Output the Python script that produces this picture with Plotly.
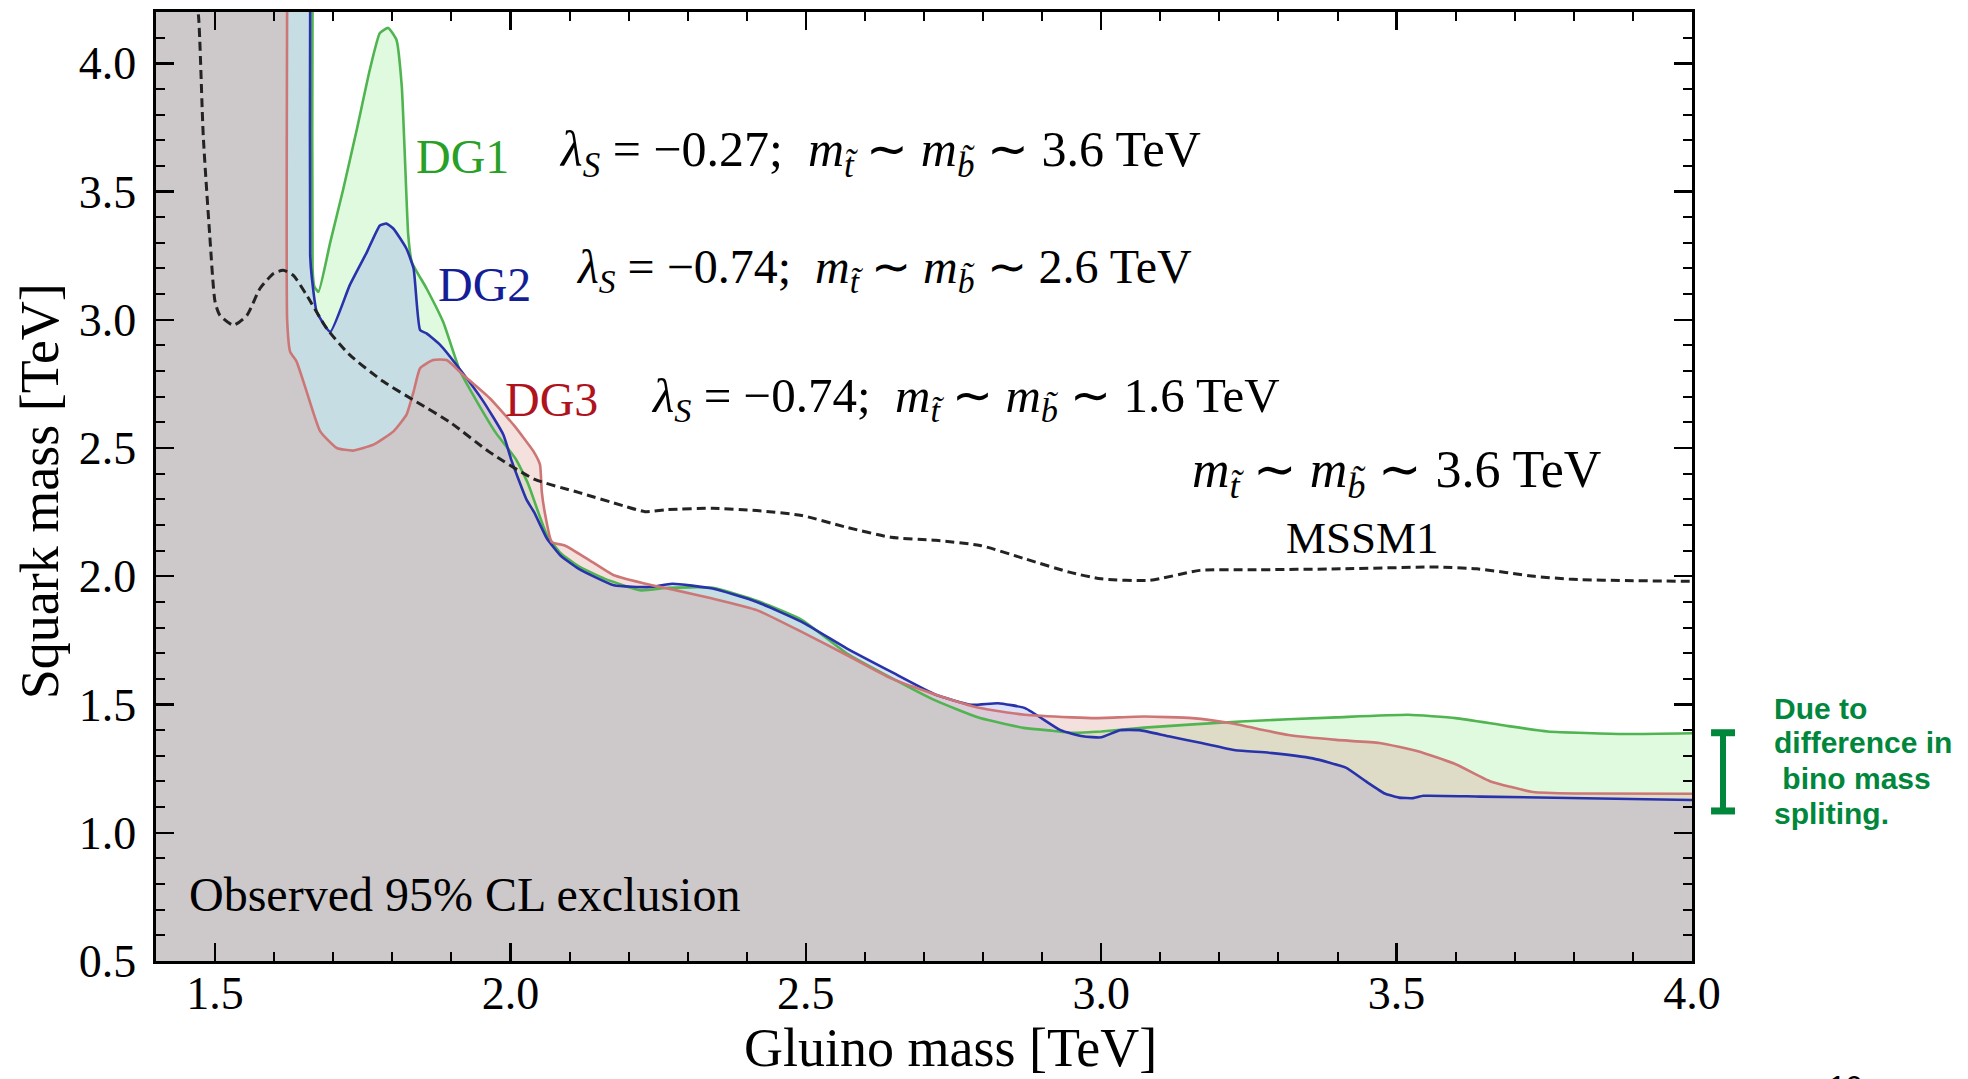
import plotly.graph_objects as go

# ---------------- data ----------------
dg1_x = [1.40, 1.665, 1.665, 1.665, 1.668, 1.675, 1.695, 1.717, 1.740, 1.762, 1.779, 1.793, 1.807, 1.816,
         1.821, 1.827, 1.833, 1.858, 1.886, 1.915, 1.943, 1.975, 2.009, 2.030, 2.047, 2.062, 2.085, 2.115,
         2.160, 2.221, 2.267, 2.342, 2.417, 2.493, 2.569, 2.644, 2.720, 2.795, 2.871, 2.917, 2.950, 3.000,
         3.073, 3.236, 3.398, 3.520, 3.600, 3.683, 3.756, 3.886, 4.000]
dg1_y = [4.30, 4.30, 4.25, 3.20, 3.13, 3.109, 3.303, 3.51, 3.743, 3.976, 4.118, 4.138, 4.092, 3.911,
         3.652, 3.329, 3.225, 3.122, 2.992, 2.798, 2.682, 2.56, 2.457, 2.36, 2.25, 2.16, 2.09, 2.04,
         1.99, 1.945, 1.955, 1.955, 1.905, 1.83, 1.70, 1.605, 1.515, 1.447, 1.408, 1.398, 1.39, 1.395,
         1.41, 1.434, 1.45, 1.46, 1.447, 1.418, 1.395, 1.385, 1.388]

dg2_x = [1.40, 1.661, 1.661, 1.661, 1.664, 1.672, 1.695, 1.728, 1.757, 1.779, 1.790, 1.802, 1.824, 1.836,
         1.847, 1.858, 1.881, 1.915, 1.954, 1.988, 2.002, 2.027, 2.040, 2.062, 2.085, 2.115, 2.175, 2.236,
         2.274, 2.342, 2.417, 2.493, 2.569, 2.644, 2.720, 2.780, 2.825, 2.871, 2.931, 2.969, 3.000, 3.032,
         3.065, 3.114, 3.170, 3.227, 3.284, 3.358, 3.414, 3.447, 3.480, 3.504, 3.528, 3.545, 3.642, 4.000]
dg2_y = [4.30, 4.30, 4.25, 3.25, 3.16, 3.031, 2.953, 3.135, 3.264, 3.368, 3.375, 3.355, 3.277, 3.20,
         2.96, 2.947, 2.902, 2.805, 2.682, 2.552, 2.45, 2.30, 2.25, 2.146, 2.08, 2.03, 1.965, 1.958,
         1.971, 1.952, 1.90, 1.822, 1.719, 1.628, 1.538, 1.499, 1.505, 1.486, 1.40, 1.376, 1.372, 1.40,
         1.40, 1.376, 1.35, 1.322, 1.312, 1.29, 1.254, 1.202, 1.153, 1.137, 1.135, 1.144, 1.141, 1.128]

dg3_x = [1.40, 1.622, 1.622, 1.622, 1.627, 1.638, 1.655, 1.678, 1.706, 1.734, 1.768, 1.802, 1.824, 1.836,
         1.847, 1.869, 1.892, 1.920, 1.965, 2.005, 2.039, 2.050, 2.053, 2.058, 2.070, 2.092, 2.130, 2.175,
         2.236, 2.281, 2.342, 2.417, 2.493, 2.569, 2.644, 2.720, 2.795, 2.871, 2.950, 2.990, 3.073, 3.154,
         3.220, 3.276, 3.317, 3.398, 3.471, 3.536, 3.601, 3.658, 3.731, 3.805, 4.000]
dg3_y = [4.30, 4.30, 4.25, 3.00, 2.876, 2.837, 2.72, 2.565, 2.50, 2.49, 2.513, 2.565, 2.63, 2.72,
         2.811, 2.843, 2.843, 2.785, 2.694, 2.591, 2.487, 2.435, 2.33, 2.25, 2.133, 2.12, 2.068, 2.004,
         1.967, 1.945, 1.913, 1.868, 1.783, 1.693, 1.602, 1.538, 1.486, 1.46, 1.45, 1.447, 1.453, 1.447,
         1.427, 1.40, 1.381, 1.362, 1.35, 1.318, 1.266, 1.201, 1.159, 1.153, 1.152]

mssm1_x = [1.465, 1.472, 1.480, 1.491, 1.500, 1.508, 1.531, 1.554, 1.576, 1.599, 1.615, 1.632, 1.655, 1.689,
           1.728, 1.785, 1.841, 1.898, 1.964, 2.040, 2.115, 2.191, 2.228, 2.266, 2.342, 2.417, 2.493, 2.569,
           2.644, 2.720, 2.795, 2.871, 2.946, 3.000, 3.082, 3.167, 3.250, 3.407, 3.571, 3.636, 3.733, 3.798,
           3.900, 4.000]
mssm1_y = [4.30, 4.183, 3.717, 3.329, 3.07, 3.018, 2.979, 3.018, 3.122, 3.18, 3.193, 3.174, 3.096, 2.966,
           2.863, 2.759, 2.68, 2.60, 2.485, 2.379, 2.327, 2.275, 2.252, 2.26, 2.265, 2.256, 2.237, 2.191,
           2.152, 2.14, 2.12, 2.068, 2.016, 1.99, 1.984, 2.023, 2.025, 2.029, 2.036, 2.029, 2.00, 1.988,
           1.983, 1.98]

x_ticks = [1.5, 2.0, 2.5, 3.0, 3.5, 4.0]
y_ticks = [0.5, 1.0, 1.5, 2.0, 2.5, 3.0, 3.5, 4.0]
bracket_y = [1.085, 1.39]
note_lines = ["Due to", "difference in", "\u00a0bino mass", "spliting."]
note_y = [1.486, 1.350, 1.213, 1.077]

# ---------------- styles ----------------
SERIF = "Liberation Serif"
series = [
    ("DG1", dg1_x, dg1_y, "rgb(80,180,80)", "rgba(100,230,100,0.2)"),
    ("DG2", dg2_x, dg2_y, "rgb(40,50,170)", "rgba(144,157,237,0.3)"),
    ("DG3", dg3_x, dg3_y, "rgb(205,118,118)", "rgba(217,152,141,0.3)"),
]
SMOOTH = 0.45

fig = go.Figure()
for name, xs, ys, lc, fc in series:
    fig.add_trace(go.Scatter(x=xs, y=ys, mode="lines", fill="tozeroy", fillcolor=fc,
                             line=dict(width=0, color=fc, shape="spline", smoothing=SMOOTH),
                             hoverinfo="skip", showlegend=False))
for name, xs, ys, lc, fc in series:
    fig.add_trace(go.Scatter(x=xs, y=ys, mode="lines",
                             line=dict(width=2.6, color=lc, shape="spline", smoothing=SMOOTH),
                             hoverinfo="skip", showlegend=False, name=name))
fig.add_trace(go.Scatter(x=mssm1_x, y=mssm1_y, mode="lines",
                         line=dict(width=3, color="rgb(35,35,35)", dash="9px,5px", shape="spline",
                                   smoothing=0.6),
                         hoverinfo="skip", showlegend=False, name="MSSM1"))

axis_common = dict(showline=True, linewidth=2.6, linecolor="black", mirror="ticks",
                   ticks="inside", ticklen=18, tickwidth=2.4, tickcolor="black",
                   showgrid=False, zeroline=False,
                   minor=dict(dtick=0.1, ticks="inside", ticklen=9, tickwidth=2, tickcolor="black",
                              showgrid=False))
fig.update_xaxes(range=[1.4, 4.0], tickvals=x_ticks, tickformat=".1f",
                 tickfont=dict(family=SERIF, size=46, color="black"), ticklabelstandoff=-10,
                 **axis_common)
fig.update_yaxes(range=[0.5, 4.2], tickvals=y_ticks, tickformat=".1f",
                 tickfont=dict(family=SERIF, size=46, color="black"), ticklabelstandoff=8,
                 **axis_common)
fig.update_xaxes(minor_tick0=1.4)
fig.update_yaxes(minor_tick0=0.5)

math_font = dict(family=SERIF, size=50, color="black")
ann = []
ann.append(dict(x=1.918, y=3.637, text="DG1", font=dict(family=SERIF, size=48, color="rgb(40,160,40)")))
ann.append(dict(x=1.956, y=3.137, text="DG2", font=dict(family=SERIF, size=48, color="rgb(20,30,150)")))
ann.append(dict(x=2.069, y=2.689, text="DG3", font=dict(family=SERIF, size=48, color="rgb(175,20,30)")))
ann.append(dict(x=2.079, y=3.649, xanchor="left",
                text="<i>λ<sub>S</sub></i> = −0.27;  <i>m</i><sub><i>t̃</i></sub> ∼ <i>m</i><sub><i>b̃</i></sub> ∼ 3.6 TeV",
                font=math_font))
ann.append(dict(x=2.107, y=3.196, xanchor="left",
                text="<i>λ<sub>S</sub></i> = −0.74;  <i>m</i><sub><i>t̃</i></sub> ∼ <i>m</i><sub><i>b̃</i></sub> ∼ 2.6 TeV",
                font=dict(family=SERIF, size=48, color="black")))
ann.append(dict(x=2.234, y=2.694, xanchor="left",
                text="<i>λ<sub>S</sub></i> = −0.74;  <i>m</i><sub><i>t̃</i></sub> ∼ <i>m</i><sub><i>b̃</i></sub> ∼ 1.6 TeV",
                font=dict(family=SERIF, size=49, color="black")))
ann.append(dict(x=3.151, y=2.401, xanchor="left",
                text="<i>m</i><sub><i>t̃</i></sub> ∼ <i>m</i><sub><i>b̃</i></sub> ∼ 3.6 TeV",
                font=dict(family=SERIF, size=52, color="black")))
ann.append(dict(x=3.442, y=2.148, text="MSSM1", font=dict(family=SERIF, size=45, color="black")))
ann.append(dict(x=1.453, y=0.758, xanchor="left", text="Observed 95% CL exclusion",
                font=dict(family=SERIF, size=48, color="black")))
for a in ann:
    a.update(xref="x", yref="y", showarrow=False)

# outside annotations
ann.append(dict(xref="paper", yref="paper", x=-0.0755, y=0.495, xanchor="center", yanchor="middle",
                text="Squark mass [TeV]", textangle=-90,
                showarrow=False, font=dict(family=SERIF, size=54, color="black")))
ann.append(dict(xref="paper", yref="paper", x=0.517, y=-0.0914, xanchor="center", yanchor="middle",
                text="Gluino mass [TeV]",
                showarrow=False, font=dict(family=SERIF, size=54, color="black")))
for line, yv in zip(note_lines, note_y):
    ann.append(dict(xref="paper", yref="y", x=1.052, y=yv, xanchor="left", yanchor="middle",
                    text="<b>" + line + "</b>", showarrow=False,
                    font=dict(family="Liberation Sans", size=30, color="rgb(0,135,60)")))
ann.append(dict(xref="paper", yref="paper", x=1.112, y=-0.112, yanchor="top", text="10",
                showarrow=False, font=dict(family="Liberation Sans", size=30, color="black")))

# bracket marking the bino mass splitting difference
bx = 1.0202
bw = 0.0078
bc = "rgb(0,135,60)"
shapes = [
    dict(type="line", xref="paper", yref="y", x0=bx, x1=bx, y0=bracket_y[0], y1=bracket_y[1],
         line=dict(color=bc, width=6)),
    dict(type="line", xref="paper", yref="y", x0=bx - bw, x1=bx + bw, y0=bracket_y[0], y1=bracket_y[0],
         line=dict(color=bc, width=7)),
    dict(type="line", xref="paper", yref="y", x0=bx - bw, x1=bx + bw, y0=bracket_y[1], y1=bracket_y[1],
         line=dict(color=bc, width=7)),
]

fig.update_layout(width=1968, height=1079, autosize=False,
                  margin=dict(l=156, r=276, t=9, b=118),
                  plot_bgcolor="white", paper_bgcolor="white",
                  annotations=ann, shapes=shapes, showlegend=False)

fig.write_html("out.html", config={"displayModeBar": False, "staticPlot": True},
               post_script="document.body.style.margin='0';document.body.style.overflow='hidden';")
